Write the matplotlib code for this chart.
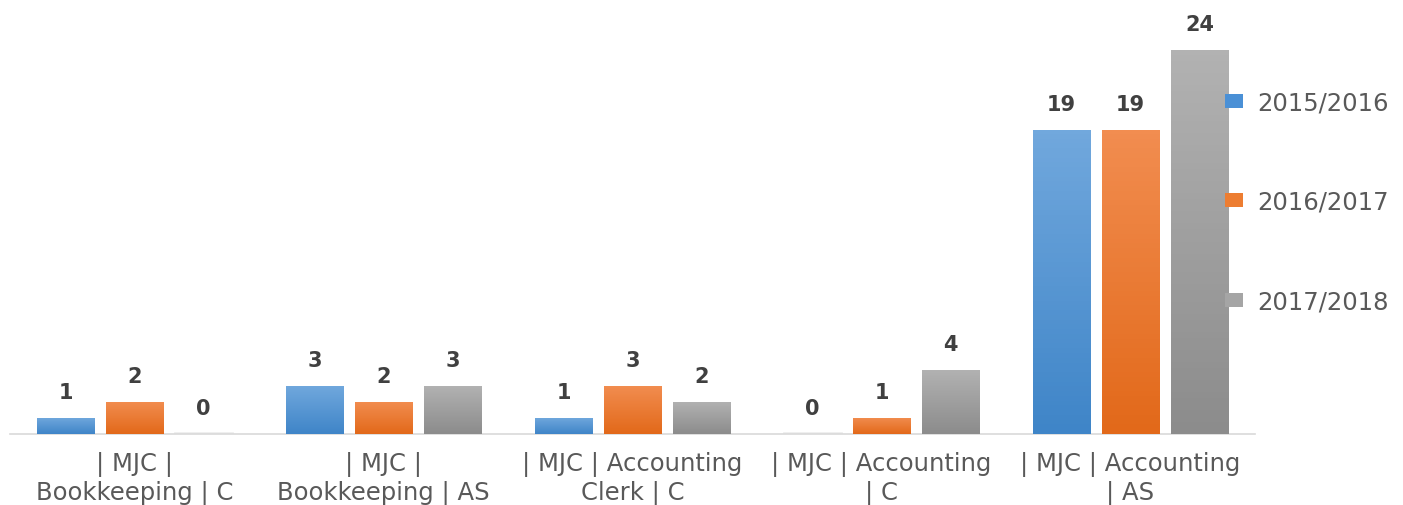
import numpy as np
import matplotlib.pyplot as plt
from matplotlib.colors import LinearSegmentedColormap

categories = ['| MJC |\nBookkeeping | C', '| MJC |\nBookkeeping | AS',
              '| MJC | Accounting\nClerk | C', '| MJC | Accounting\n| C',
              '| MJC | Accounting\n| AS']
series = ['2015/2016', '2016/2017', '2017/2018']
v_1516 = [1, 3, 1, 0, 19]
v_1617 = [2, 2, 3, 1, 19]
v_1718 = [0, 3, 2, 4, 24]
values = [v_1516, v_1617, v_1718]

# (top colour, bottom colour) for the gradient fill
grads = [('#71a8dd', '#3f85c8'), ('#f28d50', '#e2691a'), ('#b2b2b2', '#8c8c8c')]
solid = ['#4a90d6', '#ed7d31', '#a5a5a5']

plt.rcParams['font.family'] = ['DejaVu Sans']

fig = plt.figure(figsize=(14.03, 5.06), dpi=100)
ax = fig.add_axes([0.0071, 0.1403, 0.8874, 0.8222])

x = np.arange(len(categories))
w = 0.229
step = 0.277
for i, vals in enumerate(values):
    bars = ax.bar(x + (i - 1) * step, vals, w, color=solid[i], label=series[i], zorder=2)
    cmap = LinearSegmentedColormap.from_list('g%d' % i, [grads[i][1], grads[i][0]])
    for b, v in zip(bars, vals):
        bx, bw = b.get_x(), b.get_width()
        if v == 0:
            ax.plot([bx, bx + bw], [0.05, 0.05], color='#eeeeee', lw=2, zorder=2)
        else:
            im = ax.imshow(np.linspace(0, 1, 64).reshape(-1, 1), cmap=cmap, origin='lower',
                           extent=[bx, bx + bw, 0, v], aspect='auto', zorder=3)
            im.set_clip_path(b)
        ax.text(bx + bw / 2, v + 1.0, str(v), ha='center', va='bottom',
                fontsize=15, fontweight='bold', color='#404040')

ax.set_xlim(-0.5, 4.5)
ax.set_ylim(0, 26)
ax.set_xticks(x)
ax.set_xticklabels(categories, fontsize=17.5, color='#595959', linespacing=1.25)
ax.tick_params(axis='x', length=0, pad=12)
ax.set_yticks([])
for s in ['top', 'right', 'left']:
    ax.spines[s].set_visible(False)
ax.spines['bottom'].set_color('#d9d9d9')
ax.spines['bottom'].set_linewidth(1.2)

fig.legend(loc='upper left', bbox_to_anchor=(0.873, 0.819), frameon=False,
           fontsize=17.5, labelcolor='#595959', labelspacing=3.1,
           handlelength=0.74, handleheight=0.5, handletextpad=0.6,
           borderpad=0, borderaxespad=0)

fig.savefig('out.png', dpi=100)
